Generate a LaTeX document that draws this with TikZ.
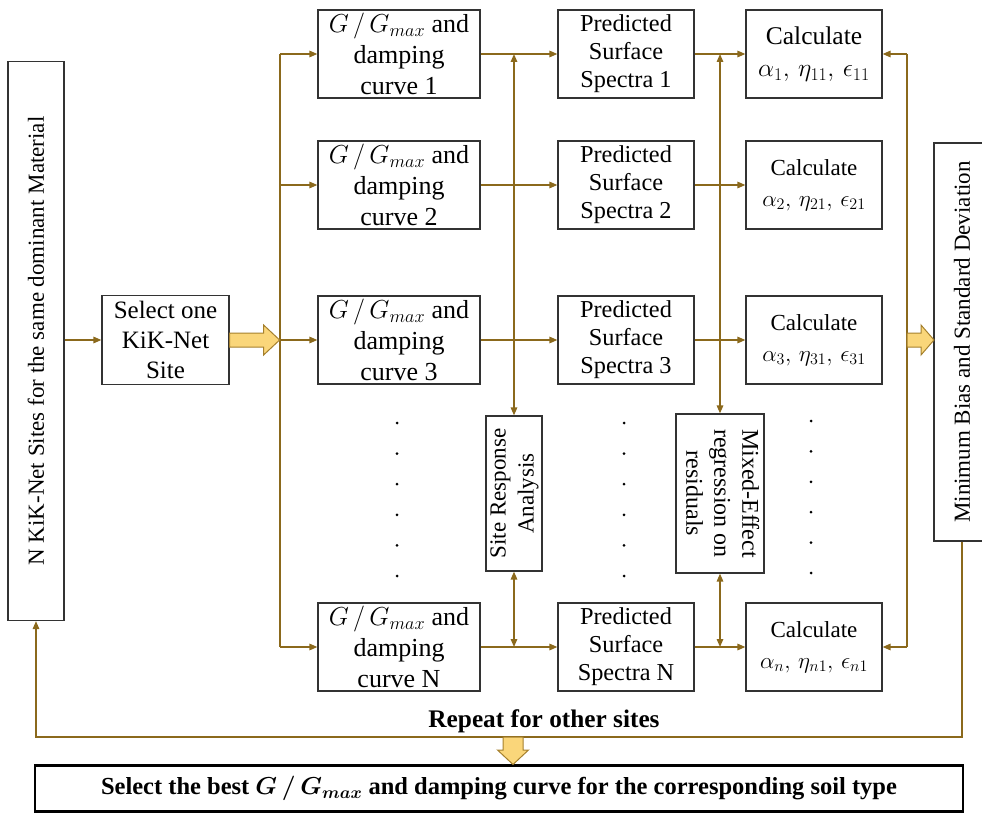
\RequirePackage{fix-cm}
\documentclass[tikz,border=0pt]{standalone}
\usepackage{fontspec}
\setmainfont{Liberation Serif}
\usepackage{amsmath,bm}
\usetikzlibrary{arrows.meta,calc}
\definecolor{ln}{RGB}{139,105,28}
\definecolor{fatfill}{RGB}{250,214,122}
\definecolor{fatdraw}{RGB}{165,128,45}
\newcommand{\ggm}{G\,/\,G_{max}}
\begin{document}
\begin{tikzpicture}[x=1pt,y=-1pt,
 box/.style={draw=black!80, line width=1.2pt, fill=white, align=center, inner sep=0pt, font=\fontsize{25}{30}\selectfont},
 gbox/.style={box, minimum width=162pt, minimum height=88pt, font=\fontsize{26}{31}\selectfont},
 pbox/.style={box, minimum width=136pt, minimum height=88pt, font=\fontsize{24.3}{28}\selectfont},
 cbox/.style={box, minimum width=136pt, minimum height=88pt, font=\fontsize{23}{28}\selectfont},
 conn/.style={draw=ln, line width=1.5pt},
 arr/.style={conn, -{Triangle[length=8pt,width=6.5pt]}},
 darr/.style={conn, {Triangle[length=8pt,width=6.5pt]}-{Triangle[length=8pt,width=6.5pt]}},
 fat/.style={fill=fatfill, draw=fatdraw, line width=1pt, line join=miter},
 dotc/.style={circle, fill=black, inner sep=0pt, minimum size=3pt}
]
\useasboundingbox (0,0) rectangle (982,813);

% left and select boxes
\node[box, minimum width=56pt, minimum height=559pt, font=\fontsize{23}{28}\selectfont] (L) at (36,341) {\rotatebox{90}{N KiK-Net Sites for the same dominant Material}};
\node[box, minimum width=127pt, minimum height=89pt] (S) at (165.5,340) {Select one\\KiK-Net\\Site};

% G boxes
\node[gbox] (G1) at (399,54) {$\ggm$ and\\damping\\curve 1};
\node[gbox] (G2) at (399,185) {$\ggm$ and\\damping\\curve 2};
\node[gbox] (G3) at (399,340) {$\ggm$ and\\damping\\curve 3};
\node[gbox] (GN) at (399,647) {$\ggm$ and\\damping\\curve N};

% predicted boxes
\node[pbox] (P1) at (626,54) {Predicted\\Surface\\Spectra 1};
\node[pbox] (P2) at (626,185) {Predicted\\Surface\\Spectra 2};
\node[pbox] (P3) at (626,340) {Predicted\\Surface\\Spectra 3};
\node[pbox] (PN) at (626,647) {Predicted\\Surface\\Spectra N};

% calculate boxes
\node[cbox, font=\fontsize{25.5}{30}\selectfont] (C1) at (814,54) {Calculate\\[2pt]$\alpha_1,\,\eta_{11},\,\epsilon_{11}$};
\node[cbox] (C2) at (814,185) {Calculate\\[3pt]$\alpha_2,\,\eta_{21},\,\epsilon_{21}$};
\node[cbox] (C3) at (814,340) {Calculate\\[3pt]$\alpha_3,\,\eta_{31},\,\epsilon_{31}$};
\node[cbox] (CN) at (814,647) {Calculate\\[3pt]$\alpha_n,\,\eta_{n1},\,\epsilon_{n1}$};

% side analysis boxes
\node[box, minimum width=56pt, minimum height=155pt, font=\fontsize{23}{28}\selectfont] (SRA) at (514,493.5) {\rotatebox{90}{\begin{tabular}{@{}c@{}}Site Response\\Analysis\end{tabular}}};
\node[box, minimum width=88pt, minimum height=159pt, font=\fontsize{24}{28}\selectfont] (ME) at (720,493.5) {\rotatebox{-90}{\begin{tabular}{@{}c@{}}Mixed-Effect\\regression on\\residuals\end{tabular}}};

% right box
\node[box, minimum width=56pt, minimum height=398pt, font=\fontsize{23}{28}\selectfont] (R) at (962,342) {\rotatebox{90}{Minimum Bias and Standard Deviation}};

% dots
\foreach \k in {0,...,5} {
  \node[dotc] (da\k) at (397,423+30.6*\k) {};
  \node[dotc] (db\k) at (624,423+30.6*\k) {};
  \node[dotc] (dc\k) at (811,421+30.4*\k) {};
}

% connectors
\draw[arr] (S.west -| L.east) -- (S.west);
\coordinate (bx) at (280,0);
\draw[conn] (G1.west -| bx) -- (GN.west -| bx);
\foreach \g in {G1,G2,G3,GN} \draw[arr] (\g.west -| bx) -- (\g.west);
\draw[fat] (S.east) ++(0,-7) -- ++(34,0) -- ++(0,-8) -- ++(16,15) -- ++(-16,15) -- ++(0,-8) -- ++(-34,0) -- cycle;

\draw[arr] (G1.east) -- (P1.west);
\draw[arr] (G2.east) -- (P2.west);
\draw[arr] (G3.east) -- (P3.west);
\draw[arr] (GN.east) -- (PN.west);
\draw[arr] (P1.east) -- (C1.west);
\draw[arr] (P2.east) -- (C2.west);
\draw[arr] (P3.east) -- (C3.west);
\draw[arr] (PN.east) -- (CN.west);

\draw[darr] (SRA.north |- G1.east) -- (SRA.north);
\draw[darr] (SRA.south) -- (SRA.south |- GN.east);
\draw[darr] (ME.north |- P1.east) -- (ME.north);
\draw[darr] (ME.south) -- (ME.south |- PN.east);

\coordinate (rbx) at (907,0);
\draw[conn] (C1.east -| rbx) -- (CN.east -| rbx);
\draw[arr] (C1.east -| rbx) -- (C1.east);
\draw[arr] (CN.east -| rbx) -- (CN.east);
\draw[fat] (C3.east -| rbx) ++(0,-7) -- ++(14,0) -- ++(0,-8) -- ++(13,15) -- ++(-13,15) -- ++(0,-8) -- ++(-14,0) -- cycle;

% loop back
\coordinate (ly) at (0,737);
\draw[arr] (R.south) -- (R.south |- ly) -- (L.south |- ly) -- (L.south);
\node[font=\bfseries\fontsize{25.3}{30}\selectfont, inner sep=0pt] (rep) at (544,721) {Repeat for other sites};

% bottom box
\node[draw=black, line width=2.5pt, minimum width=928pt, minimum height=46pt, inner sep=0pt, font=\bfseries\boldmath\fontsize{24.5}{28}\selectfont] (B) at (499,788.5) {Select the best $\ggm$ and damping curve for the corresponding soil type};
\coordinate (dm) at (513,737);
\draw[fat] (dm) ++(-10,0) -- ++(0,13) -- ++(-5.5,0) -- ++(15.5,14.5) -- ++(15.5,-14.5) -- ++(-5.5,0) -- ++(0,-13) -- cycle;
\end{tikzpicture}
\end{document}
